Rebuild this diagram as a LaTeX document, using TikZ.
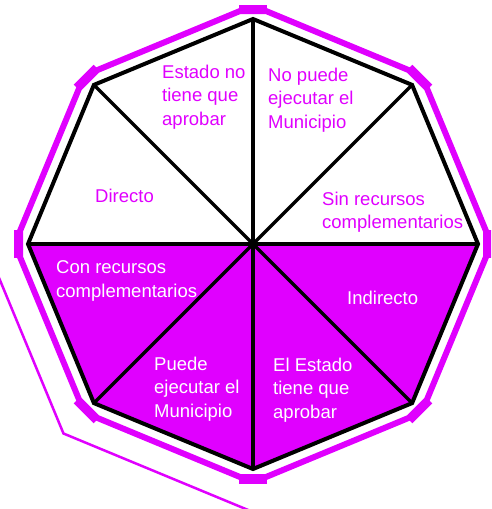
\documentclass[tikz,border=0pt]{standalone}
\usepackage{fontspec}
\setmainfont{Liberation Sans}
\usetikzlibrary{calc}
\definecolor{mag}{RGB}{224,0,255}

\begin{document}
\begin{tikzpicture}[
	x=1pt, y=-1pt,
	txt/.style={inner sep=0pt, anchor=west, align=left,
		font=\fontsize{18.5}{23.5}\selectfont},
	onwhite/.style={txt, text=mag},
	onmag/.style={txt, text=white},
	rim/.style={draw=mag, line width=6pt, line join=miter},
	cornerbar/.style={draw=mag, line width=7pt},
	spoke/.style={draw=black, line width=3.5pt}
	]
\useasboundingbox (0,0) rectangle (491,509);
\clip (0,0) rectangle (491,509);
\coordinate (c) at (253,244);
\foreach \i in {0,...,7} {
	\coordinate (v\i) at ($(c)+(\i*45:225)$);
	\coordinate (om\i) at ($(c)+(\i*45:233)+(\i*45-90:13)$);
	\coordinate (op\i) at ($(c)+(\i*45:233)+(\i*45+90:13)$);
	\coordinate (cm\i) at ($(c)+(\i*45:236)+(\i*45-90:14)$);
	\coordinate (cp\i) at ($(c)+(\i*45:236)+(\i*45+90:14)$);
}

\fill[mag] (v0) -- (v1) -- (v2) -- (v3) -- (v4) -- cycle;
\foreach \i in {0,...,7}
	\draw[spoke] (c) -- (v\i);
\draw[black, line width=4pt, line join=miter] (v0)
	\foreach \i in {1,...,7} { -- (v\i) } -- cycle;

\draw[rim] (op0) \foreach \i in {1,...,7} { -- (om\i) -- (op\i) } -- (om0) -- cycle;
\foreach \i in {0,...,7}
	\draw[cornerbar] (cm\i) -- (cp\i);
\draw[mag, line width=2.5pt] ($(c)+(180:268)$) -- ($(c)+(135:268)$) -- ($(c)+(90:268)$);

\node[onwhite] (estado) at (162,97) {Estado no\\tiene que\\aprobar};
\node[onwhite] (nopuede) at (268,100) {No puede\\ejecutar el\\Municipio};
\node[onwhite] (directo) at (95,196) {Directo};
\node[onwhite] (sin) at (322,212) {Sin recursos\\complementarios};
\node[onmag] (con) at (56,281) {Con recursos\\complementarios};
\node[onmag] (indirecto) at (347,298) {Indirecto};
\node[onmag] (puede) at (154,389) {Puede\\ejecutar el\\Municipio};
\node[onmag] (elestado) at (273,390) {El Estado\\tiene que\\aprobar};
\end{tikzpicture}
\end{document}
